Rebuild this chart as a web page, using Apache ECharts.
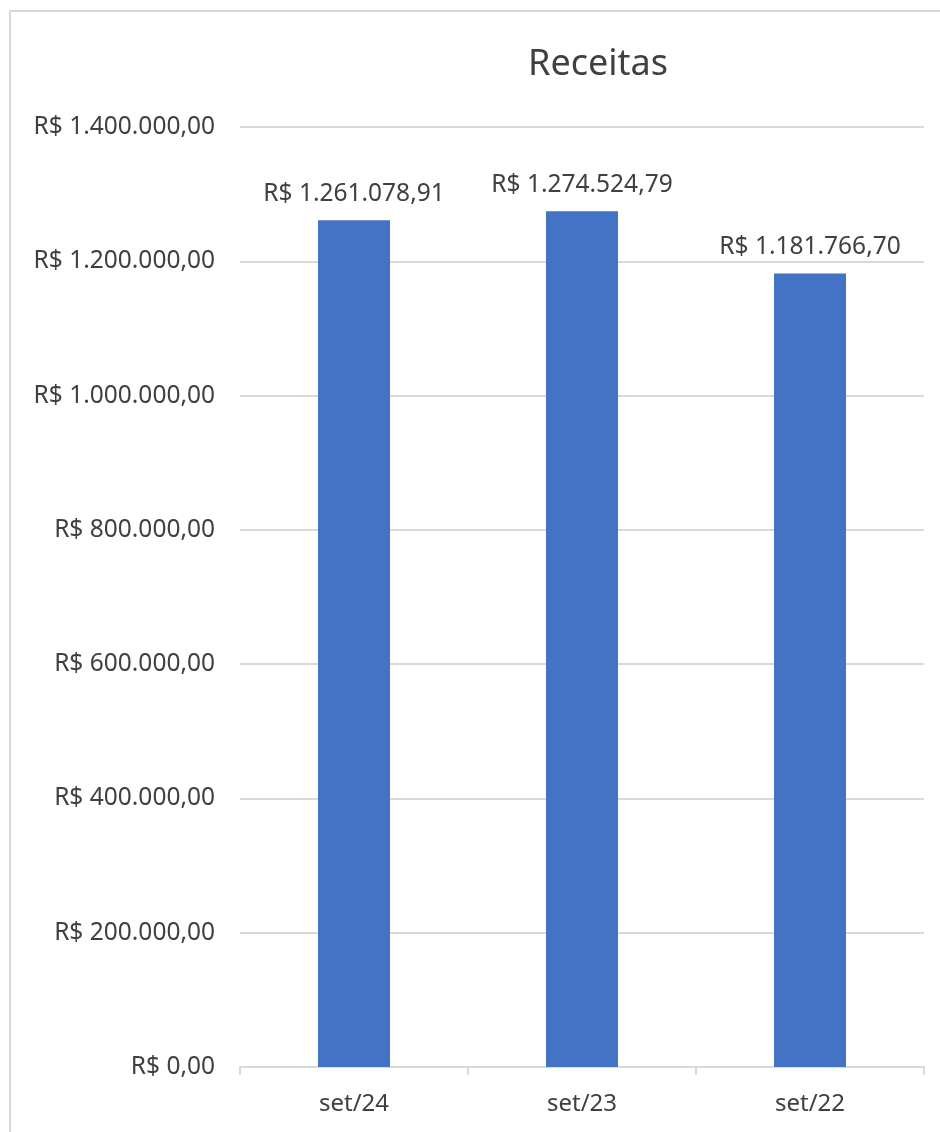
<!DOCTYPE html>
<html>
<head>
<meta charset="utf-8">
<script src="https://cdn.jsdelivr.net/npm/echarts@6/dist/echarts.min.js"></script>
<style>
  html, body { margin: 0; padding: 0; background: #fff; }
  #chart { width: 940px; height: 1132px; }
</style>
</head>
<body>
<div id="chart"></div>
<script>
const months = ['set/24', 'set/23', 'set/22']
const receitas = [1261078.91, 1274524.79, 1181766.70]

// formato brasileiro: R$ 1.234.567,89
function brl(v) {
  const parts = Number(v).toFixed(2).split('.')
  const int = parts[0].replace(/\B(?=(\d{3})+(?!\d))/g, '.')
  return 'R$ ' + int + ',' + parts[1]
}

const chart = echarts.init(document.getElementById('chart'))
const font = 'Noto Sans'

chart.setOption({
  backgroundColor: '#fff',
  textStyle: { fontFamily: font },
  title: {
    text: 'Receitas',
    left: 593,
    top: 42,
    textAlign: 'center',
    textStyle: { fontFamily: font, fontSize: 36, fontWeight: 'normal', color: '#404040' }
  },
  graphic: [{
    type: 'rect',
    shape: { x: 10, y: 11, width: 960, height: 1160 },
    style: { fill: 'none', stroke: '#d9d9d9', lineWidth: 2 },
    silent: true
  }],
  grid: { left: 240, right: 16, top: 127, bottom: 65 },
  xAxis: {
    type: 'category',
    data: months,
    axisLine: { lineStyle: { color: '#d9d9d9', width: 2 } },
    axisTick: { show: true, length: 8, lineStyle: { color: '#d9d9d9', width: 2 } },
    axisLabel: { color: '#404040', fontSize: 24, margin: 25 }
  },
  yAxis: {
    type: 'value',
    min: 0,
    max: 1400000,
    interval: 200000,
    axisLine: { show: false },
    axisTick: { show: false },
    splitLine: { lineStyle: { color: '#d9d9d9', width: 2 } },
    axisLabel: { color: '#404040', fontSize: 24.5, margin: 25, formatter: brl }
  },
  series: [{
    type: 'bar',
    data: receitas,
    barWidth: 72,
    itemStyle: { color: '#4472c4' },
    label: {
      show: true,
      position: 'top',
      distance: 14,
      color: '#404040',
      fontSize: 24.5,
      formatter: p => brl(p.value)
    },
    animation: false
  }]
})
</script>
</body>
</html>
